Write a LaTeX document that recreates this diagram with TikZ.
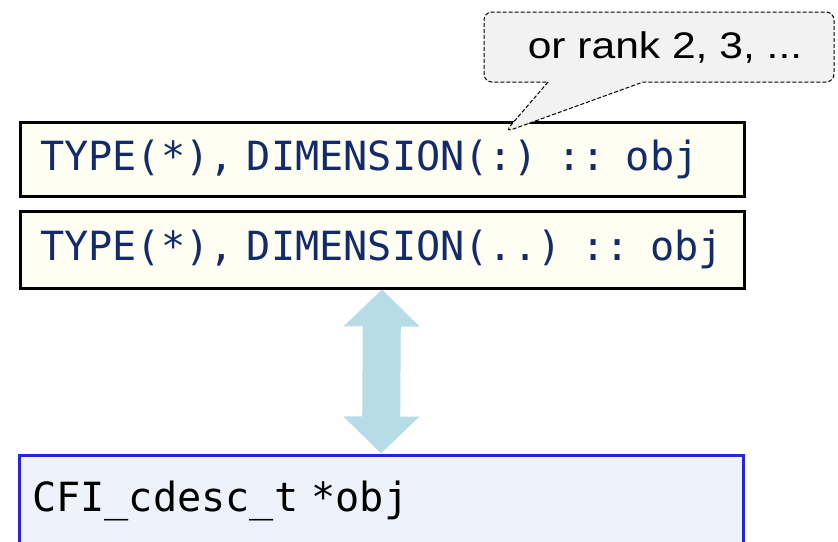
\documentclass[tikz,border=0pt]{standalone}
\usepackage{fontspec}
\setmainfont{Liberation Sans}
\newfontfamily\notefont{Liberation Sans}[FakeStretch=1.15]
\newfontfamily\codefont{DejaVu Sans Mono}
\usetikzlibrary{shapes.callouts,arrows.meta}

% code font with full-width spaces
\protected\def\codestyle{\codefont\fontsize{40.2}{44}\selectfont
    \fontdimen2\font=0.602em\relax\fontdimen3\font=0pt\relax\fontdimen4\font=0pt\relax}

\definecolor{codeblue}{HTML}{132B6B}
\definecolor{declfill}{HTML}{FEFEF3}
\definecolor{cfill}{HTML}{EEF2FA}
\definecolor{cborder}{HTML}{2424D8}
\definecolor{linkblue}{HTML}{B6DCE6}
\definecolor{notefill}{HTML}{F2F2F2}

\begin{document}
\begin{tikzpicture}[x=1pt, y=-1pt,
    declbox/.style={draw=black, line width=3pt, fill=declfill, rectangle,
        minimum width=724pt, text width=684pt, align=left, inner xsep=20pt,
        font=\codestyle, text=codeblue},
    cbox/.style={declbox, draw=cborder, fill=cfill, text=black, inner xsep=13pt, text width=698pt}]
    % Fix the page to the reference size
    \useasboundingbox (0,0) rectangle (838,541);

    % Fortran side
    \node[declbox, minimum height=74pt] (decl1) at (382,159.5) {TYPE(*), DIMENSION(:) :: obj};
    \node[declbox, minimum height=77pt] (decl2) at (382,249.5) {TYPE(*), DIMENSION(..) :: obj};

    % C side
    \node[cbox, minimum height=92pt] (cdesc) at (381,501) {CFI\_cdesc\_t *obj};

    % Link between the two
    \draw[line width=38pt, linkblue,
        {Triangle[length=37pt, width=74pt]}-{Triangle[length=37pt, width=74pt]}]
        (decl2.south) -- (cdesc.north);

    % Note on the rank
    \coordinate (tip) at (505,132);
    \node[rectangle callout, draw=black, dash pattern=on 4pt off 2pt, line width=1pt, fill=notefill,
        rounded corners=8pt, minimum width=350pt, minimum height=70pt,
        callout absolute pointer=(tip), callout pointer width=95pt,
        font=\notefont\fontsize{37}{40}\selectfont] (note) at (659,47) {\hspace{12pt}or rank 2, 3, ...};
\end{tikzpicture}
\end{document}
